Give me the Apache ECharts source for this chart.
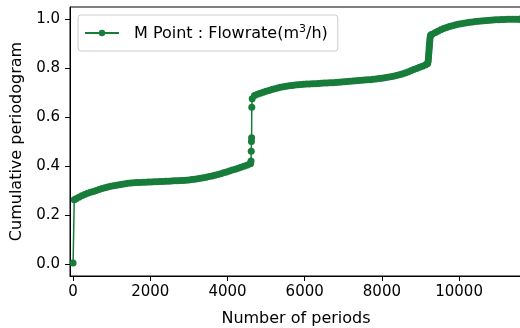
<!DOCTYPE html>
<html>
<head>
<meta charset="utf-8">
<script src="https://cdn.jsdelivr.net/npm/echarts@6/dist/echarts.min.js"></script>
<style>html,body{margin:0;padding:0;background:#fff;}#c{width:520px;height:328px;}</style>
</head>
<body>
<div id="c"></div>
<script>
var seriesName = 'M Point : Flowrate(m³/h)';
var periods = [0, 30, 75, 150, 225, 300, 375, 450, 525, 600, 675, 750, 825, 900, 975, 1050, 1125, 1200, 1275, 1350, 1425, 1500, 1575, 1650, 1725, 1800, 1875, 1950, 2025, 2100, 2175, 2250, 2325, 2400, 2475, 2550, 2625, 2700, 2775, 2850, 2925, 3000, 3075, 3150, 3225, 3300, 3375, 3450, 3525, 3600, 3675, 3750, 3825, 3900, 3975, 4050, 4125, 4200, 4275, 4350, 4425, 4500, 4575, 4600,
  4610, 4615, 4620, 4625, 4630, 4640,
  4700, 4775, 4850, 4925, 5000, 5075, 5150, 5225, 5300, 5375, 5450, 5525, 5600, 5675, 5750, 5825, 5900, 5975, 6050, 6125, 6200, 6275, 6350, 6425, 6500, 6575, 6650, 6725, 6800, 6875, 6950, 7025, 7100, 7175, 7250, 7325, 7400, 7475, 7550, 7625, 7700, 7775, 7850, 7925, 8000, 8075, 8150, 8225, 8300, 8375, 8450, 8525, 8600, 8675, 8750, 8825, 8900, 8975, 9050, 9125, 9180,
  9190, 9200, 9205, 9210, 9215, 9220, 9225, 9230, 9235, 9240, 9245, 9255, 9265,
  9300, 9375, 9450, 9525, 9600, 9675, 9750, 9825, 9900, 9975, 10050, 10125, 10200, 10275, 10350, 10425, 10500, 10575, 10650, 10725, 10800, 10875, 10950, 11025, 11100, 11175, 11250, 11325, 11400, 11475, 11550, 11580];
var cumulative = [0.003, 0.262, 0.266, 0.272, 0.278, 0.283, 0.288, 0.292, 0.296, 0.300, 0.304, 0.308, 0.311, 0.314, 0.317, 0.319, 0.321, 0.323, 0.325, 0.327, 0.329, 0.330, 0.331, 0.332, 0.3325, 0.333, 0.3335, 0.334, 0.3345, 0.335, 0.3355, 0.336, 0.3365, 0.337, 0.3375, 0.338, 0.339, 0.340, 0.3405, 0.341, 0.342, 0.343, 0.3445, 0.346, 0.348, 0.350, 0.352, 0.354, 0.3565, 0.359, 0.362, 0.365, 0.3685, 0.372, 0.3755, 0.379, 0.383, 0.387, 0.391, 0.395, 0.399, 0.403, 0.408, 0.410,
  0.420, 0.460, 0.500, 0.515, 0.640, 0.675,
  0.688, 0.693, 0.697, 0.701, 0.705, 0.709, 0.713, 0.716, 0.719, 0.7215, 0.724, 0.726, 0.728, 0.7295, 0.731, 0.732, 0.733, 0.734, 0.735, 0.7355, 0.736, 0.7365, 0.737, 0.738, 0.739, 0.7395, 0.740, 0.7405, 0.741, 0.742, 0.743, 0.744, 0.745, 0.746, 0.747, 0.748, 0.749, 0.750, 0.751, 0.752, 0.753, 0.7545, 0.756, 0.7575, 0.759, 0.761, 0.763, 0.765, 0.767, 0.770, 0.773, 0.7765, 0.780, 0.7845, 0.789, 0.794, 0.799, 0.8035, 0.808, 0.8125, 0.818,
  0.822, 0.830, 0.840, 0.850, 0.860, 0.870, 0.880, 0.890, 0.900, 0.910, 0.920, 0.930, 0.936,
  0.939, 0.945, 0.951, 0.957, 0.962, 0.966, 0.970, 0.973, 0.976, 0.979, 0.9815, 0.9835, 0.9855, 0.9875, 0.989, 0.9905, 0.992, 0.993, 0.994, 0.995, 0.996, 0.997, 0.9975, 0.998, 0.9985, 0.999, 0.9995, 1.000, 1.000, 1.000, 1.000, 1.000];
var xTicks = [0, 2000, 4000, 6000, 8000, 10000];
var yTicks = [0.0, 0.2, 0.4, 0.6, 0.8, 1.0];

var pts = periods.map(function (p, i) { return [p, cumulative[i]]; });
var FONT = 'DejaVu Sans';
var GREEN = '#187c3a';
var chart = echarts.init(document.getElementById('c'), null, {renderer: 'canvas'});
chart.setOption({
  animation: false,
  backgroundColor: '#fff',
  grid: {left: 70, right: -2, top: 7, bottom: 52, show: true, borderColor: '#000', borderWidth: 1, backgroundColor: 'transparent', containLabel: false, outerBoundsMode: 'none'},
  legend: {
    left: 78, top: 15,
    padding: [9, 10, 9, 6],
    borderColor: '#cccccc', borderWidth: 1, borderRadius: 3,
    backgroundColor: 'rgba(255,255,255,0.8)',
    itemWidth: 34, itemHeight: 8,
    formatter: function (name) {
      return '{a|' + name.replace('³', '}{s|3}{a|') + '}';
    },
    textStyle: {
      fontFamily: FONT, fontSize: 16, color: '#000', padding: [0, 0, 0, 10],
      rich: {
        a: {fontFamily: FONT, fontSize: 16, color: '#000', lineHeight: 18, verticalAlign: 'bottom'},
        s: {fontFamily: FONT, fontSize: 11, color: '#000', lineHeight: 18, verticalAlign: 'top'}
      }
    },
    data: [seriesName]
  },
  xAxis: {
    type: 'value', min: -80, max: 11630,
    name: 'Number of periods', nameLocation: 'middle', nameGap: 35,
    nameTextStyle: {fontFamily: FONT, fontSize: 16, color: '#000'},
    axisLine: {show: true, onZero: false, lineStyle: {color: '#000', width: 1}},
    axisTick: {show: true, length: 5, lineStyle: {color: '#000'}, customValues: xTicks},
    axisLabel: {fontFamily: FONT, fontSize: 15, color: '#000', margin: 9, customValues: xTicks, formatter: function (v) { return String(v); }},
    splitLine: {show: false}
  },
  yAxis: {
    type: 'value', min: -0.05, max: 1.05,
    name: 'Cumulative periodogram', nameLocation: 'middle', nameGap: 43, nameRotate: 90,
    nameTextStyle: {fontFamily: FONT, fontSize: 16, color: '#000'},
    axisLine: {show: true, onZero: false, lineStyle: {color: '#000', width: 1}},
    axisTick: {show: true, length: 5, lineStyle: {color: '#000'}, customValues: yTicks},
    axisLabel: {fontFamily: FONT, fontSize: 15, color: '#000', margin: 10, customValues: yTicks, formatter: function (v) { return v.toFixed(1); }},
    splitLine: {show: false}
  },
  series: [{
    name: seriesName,
    type: 'line',
    data: pts,
    showSymbol: true,
    showAllSymbol: true,
    symbol: 'circle',
    symbolSize: 7,
    color: GREEN,
    lineStyle: {color: GREEN, width: 1.5},
    itemStyle: {color: GREEN}
  }]
});
</script>
</body>
</html>
